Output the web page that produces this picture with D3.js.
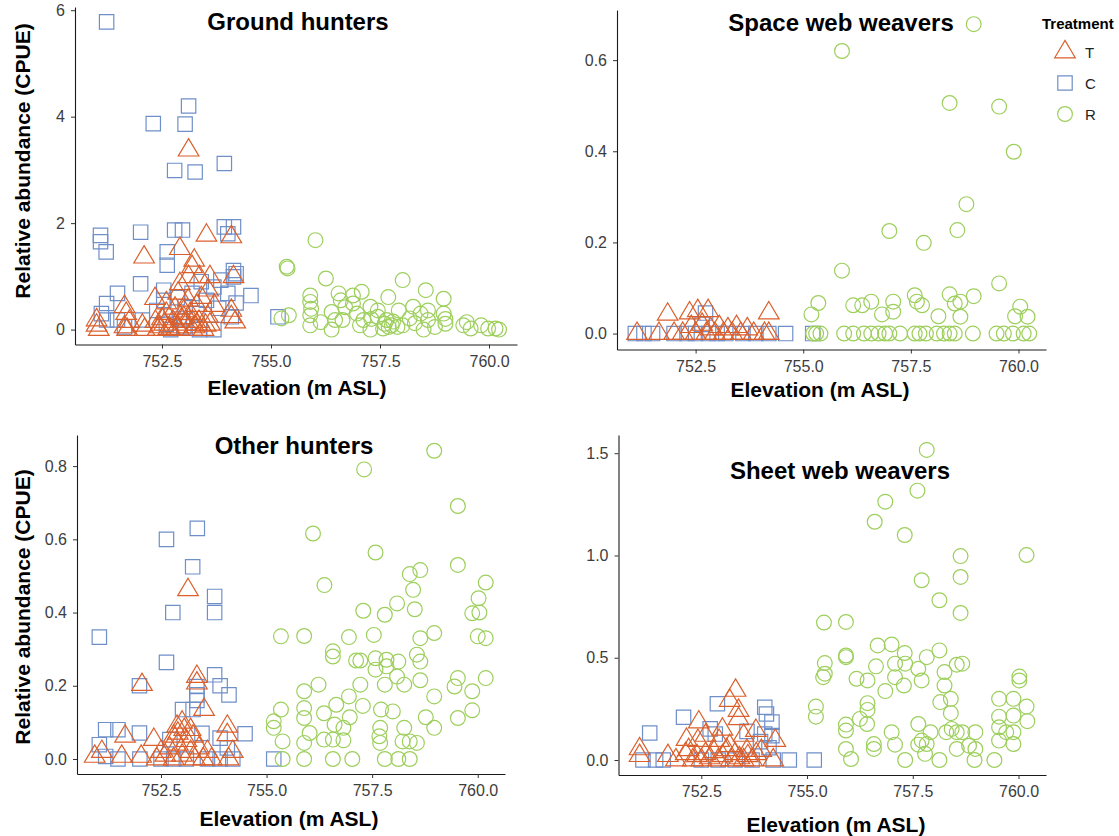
<!DOCTYPE html>
<html>
<head>
<meta charset="utf-8">
<script src="https://cdn.jsdelivr.net/npm/d3@7"></script>
<style>
  body { margin: 0; background: #fff; }
  svg { display: block; }
  text { font-family: "Liberation Sans", Arial, Helvetica, sans-serif; }
</style>
</head>
<body>
<svg id="chart" width="1119" height="836"></svg>
<script>
// ---------------- data: [elevation (m ASL), CPUE] per treatment ----------------
const treatments = ["T", "C", "R"];
const xTickValues = [752.5, 755.0, 757.5, 760.0];

// Ground hunters
const groundC = [[751.23,5.78],[753.11,4.20],[752.30,3.87],[753.03,3.86],[752.79,2.99],[753.26,2.96],[753.93,3.12],
  [751.09,1.77],[751.09,1.65],[751.22,1.46],[752.01,1.83],[752.79,1.87],[752.97,1.87],[753.93,1.93],[754.14,1.93],[754.01,1.80],
  [752.62,1.46],[752.62,1.21],[752.01,0.86],[751.48,0.68],[751.23,0.49],[751.11,0.30],[751.23,0.18],[754.54,0.64],[754.14,1.11],
  [754.14,0.99],[753.85,0.93],[755.16,0.24],[752.54,0.74],[752.54,0.55],[752.38,0.36],[752.70,0],[753.36,0],[753.69,0],[753.52,0.55],
  [753.19,0.68],[753.69,0.80],[753.03,0.43],[754.01,0.68],[754.09,0.24],[752.05,0.18],[751.64,0.05],[751.48,0.18],[752.9,0.2],
  [753.3,0.3],[752.6,0.1],[753.8,0.4],[754.2,0.5],[753.0,0.05],[752.85,0.6],[753.4,0.9],[754.2,1.05]];
const groundT = [[753.11,3.37],[753.52,1.77],[754.09,1.74],[752.91,1.52],[752.09,1.36],[753.24,1.30],[753.19,1.18],[753.11,0.99],
  [753.36,0.99],[753.60,0.99],[754.14,0.99],[752.91,0.86],[753.56,0.74],[752.87,0.68],[752.34,0.58],[751.64,0.43],[751.68,0.30],
  [751.0,0.18],[751.0,0.08],[754.09,0.36],[754.09,0.24],[754.18,0.14],[752.05,0.08],[751.64,0.05],[752.45,0.05],[752.55,0.10],
  [752.65,0.02],[752.75,0.15],[752.85,0.05],[752.95,0.20],[753.05,0.10],[753.15,0.30],[753.25,0.05],[753.35,0.15],[753.45,0.0],
  [753.55,0.25],[752.6,0.30],[753.0,0.35],[753.3,0.45],[753.4,0.6],[752.8,0.4],[753.1,0.55],[752.5,0.2],[753.2,0.15],[753.5,0.08],
  [752.7,0.0],[752.4,0.0],[753.6,0.1],[751.05,0.0],[751.7,0.0],[751.75,0.15],[752.1,0.0],[753.2,0.0],[752.9,0.0],[753.0,0.22],
  [753.3,0.1],[752.6,0.5],[753.7,0.45],[752.35,0.15]];
const groundR = [[756.02,1.68],[755.36,1.18],[755.38,1.15],[756.26,0.96],[758.02,0.93],[757.08,0.71],[758.55,0.74],[758.96,0.58],
  [755.9,0.64],[755.9,0.52],[755.92,0.39],[755.9,0.27],[755.9,0.08],[756.55,0.68],[756.6,0.55],[756.88,0.64],[757.69,0.61],
  [755.41,0.27],[755.24,0.21],[756.39,0.33],[756.64,0.18],[756.97,0.30],[757.28,0.43],[757.45,0.24],[757.65,0.18],[757.77,0.08],
  [757.57,0.02],[757.28,0],[757.04,0.08],[756.39,0],[756.14,0.14],[758.26,0.43],[758.43,0.30],[758.6,0.18],[758.76,0.05],
  [758.18,0.21],[758.02,0.08],[758.96,0.30],[759.0,0.11],[759.41,0.08],[759.58,0.02],[759.82,0.08],[759.98,0.02],[760.15,0.02],
  [760.23,0],[759.49,0.14],[757.45,0.36],[756.88,0.49],[757.93,0.36],[758.6,0.36],[756.47,0.18],[757.12,0.18],[757.61,0.11],
  [757.8,0.15],[757.7,0.05],[758.3,0.12],[758.5,0.0],[759.0,0.2],[756.7,0.42],[757.3,0.2],[757.9,0.05]];

// Space web weavers
const spaceT = [[751.14,0],[751.65,0],[751.85,0.042],[752.0,0],[752.36,0.045],[752.55,0.05],[752.79,0.05],[752.2,0],[752.4,0.015],
  [752.5,0],[752.65,0.02],[752.75,0],[752.85,0.01],[752.95,0],[753.05,0.015],[753.15,0],[753.25,0.01],[753.35,0],[753.45,0.015],
  [753.55,0],[753.7,0.01],[753.85,0],[754.2,0.045],[754.2,0],[754.1,0]];
const spaceC = [[751.3,0],[751.5,0],[751.1,0],[752.0,0],[752.3,0],[752.5,0],[752.73,0.045],[752.8,0],[753.0,0],[753.2,0],
  [753.6,0],[753.9,0],[754.2,0],[754.59,0],[755.22,0],[752.65,0.02]];
const spaceR = [[758.96,0.679],[755.90,0.620],[758.40,0.506],[759.55,0.498],[759.89,0.399],[758.79,0.284],[757.0,0.225],
  [758.58,0.227],[757.80,0.199],[755.90,0.138],[759.55,0.110],[757.59,0.084],[758.40,0.086],[758.96,0.082],[755.35,0.067],
  [755.19,0.042],[756.16,0.062],[756.37,0.062],[756.58,0.070],[757.09,0.070],[757.09,0.048],[756.83,0.042],[757.64,0.070],
  [757.76,0.062],[758.14,0.038],[758.52,0.066],[758.65,0.070],[758.65,0.037],[760.04,0.059],[759.92,0.038],[760.21,0.037],
  [755.23,0],[755.40,0],[755.95,0],[756.16,0],[756.41,0],[756.58,0],[756.75,0],[757.0,0],[757.25,0],[757.59,0],[757.85,0],
  [758.10,0],[758.27,0],[758.52,0],[758.94,0],[759.49,0],[759.66,0],[759.87,0],[760.12,0],[760.25,0],[757.7,0],[758.4,0],
  [755.3,0],[756.9,0]];

// Other hunters
const otherC = [[751.04,0.333],[752.63,0.600],[753.36,0.630],[753.25,0.525],[752.78,0.400],[753.77,0.444],[753.77,0.400],
  [752.63,0.264],[751.99,0.200],[753.77,0.230],[753.90,0.200],[754.11,0.175],[753.35,0.198],[753.35,0.175],[753.01,0.135],
  [753.26,0.135],[751.19,0.080],[751.48,0.080],[751.99,0.071],[754.49,0.069],[755.17,0.0],[751.04,0.039],[751.19,0.007],
  [751.48,0],[753.90,0.057],[754.07,0.03],[752.0,0],[752.5,0],[752.8,0],[753.1,0],[753.6,0],[753.9,0],[754.2,0],[753.47,0.07],
  [752.71,0.053],[753.35,0.16]];
const otherT = [[753.14,0.462],[752.05,0.203],[753.35,0.225],[753.35,0.207],[753.52,0.135],[751.65,0.062],[752.33,0.053],
  [750.93,0.007],[751.57,0.007],[752.03,0.007],[754.07,0.089],[754.07,0.066],[752.88,0.089],[753.05,0.080],[752.80,0.062],
  [753.26,0.062],[752.4,0],[752.5,0.02],[752.6,0.01],[752.7,0.03],[752.8,0],[752.9,0.04],[753.0,0.01],[753.1,0.05],[753.2,0.02],
  [753.3,0],[753.4,0.03],[753.5,0],[753.6,0.02],[753.7,0],[754.1,0],[754.2,0.02],[753.0,0.1],[753.2,0.08],[752.9,0.07],[751.1,0.02]];
const otherR = [[758.97,0.842],[757.31,0.791],[759.53,0.691],[756.10,0.616],[757.58,0.564],[759.53,0.530],[758.64,0.516],
  [758.39,0.505],[760.19,0.482],[758.47,0.462],[756.37,0.475],[760.02,0.439],[758.09,0.425],[758.51,0.409],[757.29,0.405],
  [757.80,0.394],[759.87,0.398],[760.04,0.400],[755.34,0.335],[755.89,0.336],[756.95,0.333],[757.54,0.339],[758.64,0.330],
  [758.97,0.344],[760.0,0.335],[760.19,0.330],[756.57,0.294],[756.57,0.280],[757.12,0.269],[757.22,0.269],[757.58,0.275],
  [757.84,0.271],[758.12,0.266],[758.56,0.285],[758.64,0.266],[757.58,0.244],[757.84,0.253],[758.09,0.225],[758.26,0.203],
  [758.64,0.215],[757.22,0.203],[757.80,0.203],[756.23,0.203],[759.53,0.221],[759.45,0.198],[760.19,0.221],[755.89,0.185],
  [756.95,0.171],[758.97,0.171],[759.87,0.185],[756.65,0.148],[757.28,0.145],[755.89,0.139],[755.34,0.135],[757.71,0.135],
  [757.99,0.130],[759.87,0.133],[759.53,0.112],[756.36,0.125],[756.97,0.114],[755.89,0.112],[755.17,0.103],[755.17,0.085],
  [758.77,0.114],[758.97,0.085],[756.02,0.071],[756.61,0.094],[756.82,0.085],[757.69,0.085],[758.26,0.085],[756.36,0.053],
  [757.67,0.062],[757.69,0.044],[758.22,0.048],[758.39,0.048],[758.56,0.044],[755.38,0.048],[755.89,0.044],[756.57,0.053],
  [756.82,0.051],[755.38,0],[755.89,0],[756.57,0],[757.03,0],[757.80,0],[758.12,0],[758.39,0]];

// Sheet web weavers
const sheetC = [[751.28,0.132],[752.08,0.209],[752.88,0.275],[754.0,0.258],[754.04,0.225],[754.17,0.185],[752.71,0.152],
  [752.83,0.127],[754.0,0.127],[754.17,0.119],[751.12,0],[751.42,0],[754.58,0],[755.17,0],[753.58,0.14],[752.5,0],[752.9,0],
  [753.3,0],[753.7,0],[754.2,0],[751.6,0],[754.1,0.06],[753.9,0.09]];
const sheetT = [[753.31,0.340],[753.17,0.291],[753.38,0.242],[753.38,0.201],[752.44,0.185],[753.79,0.144],[754.25,0.095],
  [751.04,0.054],[751.04,0.021],[751.71,0.021],[752.13,0.03],[752.42,0.095],[752.92,0.095],[753.17,0.07],[753.58,0.046],
  [753.92,0.046],[752.3,0],[752.4,0.02],[752.5,0],[752.6,0.03],[752.7,0.01],[752.8,0.04],[752.9,0],[753.0,0.02],[753.1,0.05],
  [753.2,0],[753.3,0.03],[753.4,0.01],[753.5,0],[753.6,0.02],[753.7,0],[753.8,0.03],[754.2,0],[751.9,0],[752.2,0.05],
  [752.6,0.12],[753.0,0.15],[753.5,0.12],[752.15,0.1]];
const sheetR = [[757.83,1.516],[757.61,1.317],[756.85,1.263],[756.60,1.165],[757.31,1.100],[758.63,0.997],[760.19,1.002],
  [757.71,0.879],[758.63,0.895],[758.13,0.781],[758.63,0.719],[755.40,0.672],[755.92,0.675],[755.92,0.511],[755.92,0.503],
  [756.67,0.560],[757.0,0.565],[757.31,0.523],[758.13,0.536],[757.83,0.503],[755.42,0.474],[755.42,0.422],[755.38,0.405],
  [756.63,0.458],[757.08,0.471],[757.32,0.471],[757.63,0.446],[758.54,0.466],[758.67,0.471],[758.25,0.430],[756.17,0.397],
  [756.43,0.389],[757.08,0.405],[757.29,0.364],[757.71,0.389],[758.25,0.364],[760.02,0.408],[760.02,0.389],[756.85,0.337],
  [758.40,0.299],[758.15,0.283],[759.54,0.299],[759.88,0.299],[756.43,0.278],[756.43,0.245],[755.21,0.261],[755.21,0.212],
  [760.19,0.261],[759.88,0.217],[759.54,0.212],[758.40,0.229],[756.25,0.201],[756.42,0.176],[760.21,0.190],[755.92,0.173],
  [755.92,0.144],[757.63,0.176],[757.92,0.136],[758.29,0.136],[758.42,0.152],[758.54,0.136],[758.67,0.136],[758.98,0.136],
  [759.54,0.160],[759.71,0.136],[759.88,0.136],[757.0,0.136],[757.08,0.075],[757.71,0.095],[757.63,0.075],[757.83,0.078],
  [758.54,0.054],[758.83,0.070],[758.98,0.054],[759.54,0.095],[759.88,0.078],[755.92,0.054],[756.58,0.078],[756.58,0.054],
  [756.04,0.005],[757.32,0],[758.13,0],[758.96,0],[759.43,0],[757.79,0.03]];

// ---------------- layout and styling ----------------
const colors = { T: "#DB5F2C", C: "#6F8FC9", R: "#9DCF5C" };
const FONT_TICK = 16;

const panels = [
  { title: "Ground hunters", series: { C: groundC, T: groundT, R: groundR },
    yTicks: [0, 2, 4, 6], yFormat: d3.format("d"),
    box: { left: 75, right: 517, top: 7, bottom: 344.5 }, xDom: [750.505, 760.642], yDom: [-0.28, 6.06],
    titlePos: [298, 30], xTitlePos: [297, 395], yTitle: true, yTitleY: 161 },
  { title: "Space web weavers", series: { C: spaceC, T: spaceT, R: spaceR },
    yTicks: [0, 0.2, 0.4, 0.6], yFormat: d3.format(".1f"),
    box: { left: 617, right: 1046, top: 10, bottom: 349.5 }, xDom: [750.674, 760.639], yDom: [-0.035, 0.71],
    titlePos: [841, 31], xTitlePos: [820, 397], yTitle: false },
  { title: "Other hunters", series: { C: otherC, T: otherT, R: otherR },
    yTicks: [0, 0.2, 0.4, 0.6, 0.8], yFormat: d3.format(".1f"),
    box: { left: 77, right: 505, top: 435, bottom: 774 }, xDom: [750.511, 760.646], yDom: [-0.041, 0.885],
    titlePos: [294, 454], xTitlePos: [289, 826], yTitle: true, yTitleY: 607 },
  { title: "Sheet web weavers", series: { C: sheetC, T: sheetT, R: sheetR },
    yTicks: [0, 0.5, 1.0, 1.5], yFormat: d3.format(".1f"),
    box: { left: 618.5, right: 1046, top: 435, bottom: 775 }, xDom: [750.542, 760.65], yDom: [-0.0733, 1.589],
    titlePos: [840, 479], xTitlePos: [836, 832], yTitle: false }
];

// open plotting symbols centred on the point: triangle, square, circle
const shapePath = {
  T: "M0,-11.6L10.3,5.8L-10.3,5.8Z",
  C: "M-7.2,-7.2H7.2V7.2H-7.2Z"
};
function drawShape(sel, key) {
  if (key === "R") {
    return sel.append("circle").attr("r", 7.4)
      .attr("fill", "none").attr("stroke", colors.R).attr("stroke-width", 1.2);
  }
  return sel.append("path").attr("d", shapePath[key])
    .attr("fill", "none").attr("stroke", colors[key]).attr("stroke-width", 1.2);
}

const svg = d3.select("#chart");
svg.append("rect").attr("width", 1119).attr("height", 836).attr("fill", "#fff");

panels.forEach(p => {
  const b = p.box;
  const x = d3.scaleLinear().domain(p.xDom).range([b.left, b.right]);
  const y = d3.scaleLinear().domain(p.yDom).range([b.bottom, b.top]);
  const g = svg.append("g");

  // points: controls, then treated, then reference plots
  ["C", "T", "R"].forEach(key => {
    g.append("g").selectAll("g").data(p.series[key]).join("g")
      .attr("transform", d => `translate(${x(d[0])},${y(d[1])})`)
      .each(function () { drawShape(d3.select(this), key); });
  });

  // axes
  const xAxis = g.append("g").attr("transform", `translate(0,${b.bottom})`)
    .call(d3.axisBottom(x).tickValues(xTickValues).tickFormat(d3.format(".1f"))
      .tickSize(4).tickPadding(7).tickSizeOuter(0));
  const yAxis = g.append("g").attr("transform", `translate(${b.left},0)`)
    .call(d3.axisLeft(y).tickValues(p.yTicks).tickFormat(p.yFormat)
      .tickSize(4).tickPadding(6).tickSizeOuter(0));
  [xAxis, yAxis].forEach(a => {
    a.select(".domain").attr("stroke", "#1a1a1a").attr("stroke-width", 1.1);
    a.selectAll(".tick line").attr("stroke", "#333").attr("stroke-width", 1);
    a.selectAll(".tick text").attr("fill", "#3d3d3d").style("font-size", FONT_TICK + "px")
      .style("font-family", "'Liberation Sans', Arial, sans-serif");
  });

  // titles
  g.append("text").attr("x", p.titlePos[0]).attr("y", p.titlePos[1])
    .attr("text-anchor", "middle").attr("font-weight", "bold").attr("font-size", 24)
    .attr("fill", "#000").text(p.title);
  g.append("text").attr("x", p.xTitlePos[0]).attr("y", p.xTitlePos[1])
    .attr("text-anchor", "middle").attr("font-weight", "bold").attr("font-size", 21)
    .attr("fill", "#000").text("Elevation (m ASL)");
  if (p.yTitle) {
    g.append("text").attr("transform", `translate(29.5,${p.yTitleY}) rotate(-90)`)
      .attr("text-anchor", "middle").attr("font-weight", "bold").attr("font-size", 21)
      .attr("fill", "#000").text("Relative abundance (CPUE)");
  }
});

// legend
const legend = svg.append("g");
legend.append("text").attr("x", 1042).attr("y", 29).attr("font-weight", "bold")
  .attr("font-size", 15).attr("fill", "#000").text("Treatment");
const legendY = d3.scalePoint().domain(treatments).range([52, 114]);
treatments.forEach(key => {
  const item = legend.append("g").attr("transform", `translate(1065,${legendY(key)})`);
  drawShape(item, key);
  item.append("text").attr("x", 20).attr("y", 6).attr("font-size", 15)
    .attr("fill", "#222").text(key);
});
</script>
</body>
</html>
